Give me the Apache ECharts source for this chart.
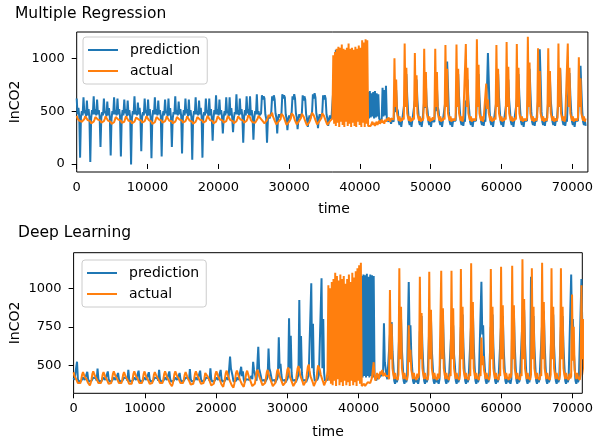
<!DOCTYPE html>
<html><head><meta charset="utf-8">
<script src="https://cdn.jsdelivr.net/npm/echarts@6/dist/echarts.min.js"></script>
<style>html,body{margin:0;padding:0;background:#fff}#c{width:596px;height:441px}</style>
</head><body><div id="c"></div>
<script>
// one value per 120 time units (12 values per line = 1440 time units)
const STEP = 120;
const xTicks = [0,10000,20000,30000,40000,50000,60000,70000];
const yTicksTop = [0,500,1000];
const yTicksBot = [500,750,1000];
const seriesNames = ['prediction','actual'];

// Multiple Regression: prediction
const predTop = [
620,470,530,450,60,440,500,460,630,480,510,450,
600,460,520,440,20,430,510,470,640,470,520,460,
610,470,510,450,160,440,490,460,620,480,500,450,
590,460,530,440,80,430,500,470,630,470,510,460,
620,470,520,450,70,440,510,460,610,480,520,450,
600,460,510,440,-5,430,500,470,640,470,500,460,
580,470,530,450,120,440,490,460,620,480,510,450,
610,460,520,440,55,430,510,470,630,470,520,460,
600,470,510,450,70,440,500,460,610,480,500,450,
620,460,530,440,160,430,490,470,640,470,510,460,
590,470,520,450,100,440,510,460,620,480,520,450,
610,460,510,440,40,430,500,470,630,470,500,460,
600,470,530,450,60,440,490,460,620,480,510,450,
620,460,520,440,220,430,510,470,650,470,520,460,
610,470,510,450,290,440,500,460,630,480,500,450,
630,460,530,440,300,430,490,470,660,470,510,460,
620,470,520,450,200,440,510,460,640,480,520,450,
640,460,510,440,230,430,500,470,660,470,500,460,
450,480,650,610,640,620,470,430,200,420,460,430,
460,490,640,600,650,610,480,440,290,430,470,440,
450,480,660,620,650,630,470,430,320,420,460,430,
460,490,640,610,660,620,480,440,330,430,470,440,
450,480,650,600,640,610,470,430,350,420,460,430,
460,490,660,620,670,630,480,440,340,430,470,440,
450,480,650,610,650,620,470,430,360,420,460,430,
450,440,700,900,500,1080,450,1070,480,950,430,920,
460,900,440,950,450,900,430,950,450,900,420,940,
440,920,450,900,430,950,460,900,440,930,450,900,
430,950,440,900,420,640,420,680,430,690,440,670,
450,680,430,690,440,670,450,660,430,420,400,430,
720,450,700,460,740,430,420,400,430,410,380,420,
420,400,600,490,700,525,500,400,370,420,350,410,
420,400,600,600,850,640,500,400,370,420,350,410,
420,400,600,560,800,600,500,400,370,420,350,410,
410,600,530,750,560,500,400,370,420,350,410,420,
420,400,600,500,720,540,500,400,370,420,350,410,
420,400,600,680,970,730,500,400,370,420,350,410,
420,400,410,600,600,850,640,500,400,370,420,360,
420,400,600,560,800,600,500,400,370,420,350,410,
420,400,410,600,600,850,640,500,400,370,420,360,
420,400,600,740,1050,790,500,400,370,420,350,410,
420,400,600,600,850,640,500,400,370,420,350,410,
420,400,600,560,800,600,500,400,370,420,350,410,
420,400,600,600,850,640,500,400,370,420,350,410,
420,400,410,600,630,900,680,500,400,370,420,360,
420,400,410,600,760,1085,810,500,400,370,420,360,
420,400,410,600,560,800,600,500,400,370,420,360,
420,400,410,600,630,900,680,500,400,370,420,360,
420,400,600,600,860,650,500,400,370,420,350,410,
420,400,410,600,650,930,700,500,400,370,420,360
];
// Multiple Regression: actual
const actTop = [
455,430,440,410,415,395,400,385,405,425,450,435,
440,415,425,400,405,385,395,380,400,420,445,430,
445,420,430,405,410,390,400,385,405,425,450,435,
440,410,420,395,400,380,390,375,395,420,445,430,
445,420,430,405,410,390,400,385,400,425,450,435,
435,410,420,395,405,385,395,380,400,420,440,425,
445,420,430,405,410,390,400,385,405,425,450,435,
440,415,425,400,400,380,390,375,395,420,445,430,
445,420,430,405,410,390,400,385,405,425,450,435,
440,410,420,395,405,385,395,380,400,420,445,430,
445,420,430,405,410,390,400,385,405,425,450,435,
435,410,420,395,400,380,390,375,400,420,445,430,
445,420,430,405,410,390,400,385,405,430,455,440,
440,415,425,400,405,385,395,380,400,425,450,435,
450,420,430,405,410,390,400,385,405,430,455,440,
440,415,425,400,405,385,395,380,405,425,450,435,
450,420,430,405,410,390,400,385,410,430,460,445,
440,415,425,395,400,380,390,375,405,430,455,440,
450,425,435,405,410,385,395,380,415,440,465,445,
430,465,485,450,440,410,400,375,370,385,405,420,
425,475,490,455,445,415,400,370,365,380,400,415,
430,480,495,460,445,410,405,375,360,385,410,420,
435,475,490,450,440,405,395,365,355,380,400,420,
430,485,500,460,450,415,405,375,370,390,410,425,
435,480,495,455,445,410,400,370,365,385,405,420,
420,430,1030,380,1060,360,1090,390,1110,350,1100,400,
1130,370,1090,350,1080,400,1100,360,1140,380,1090,350,
1100,390,1080,360,1110,350,1090,400,1120,370,1100,350,
1170,390,1150,350,1180,380,1170,360,370,350,360,380,
400,370,390,360,380,400,370,390,410,380,400,420,
390,410,380,420,400,430,410,440,420,400,430,420,
440,420,1000,540,800,480,440,410,450,400,430,410,
440,420,1140,540,910,480,440,410,450,400,430,410,
440,420,1050,540,840,480,440,410,450,400,430,410,
430,1090,540,870,480,440,410,450,400,430,410,440,
440,420,1090,540,870,480,440,410,450,400,430,410,
440,420,1125,540,900,480,440,410,450,400,430,410,
430,410,440,1130,540,900,480,440,410,450,400,430,
440,420,1135,540,910,480,440,410,450,400,430,410,
430,410,440,1180,540,940,480,440,410,450,400,430,
440,420,760,520,610,480,440,410,450,400,430,410,
440,420,1125,540,900,480,440,410,450,400,430,410,
440,420,1155,540,920,480,440,410,450,400,430,410,
440,420,1135,540,910,480,440,410,450,400,430,410,
430,410,440,1205,540,960,480,440,410,450,400,430,
430,410,440,1095,540,880,480,440,410,450,400,430,
430,410,440,1095,540,880,480,440,410,450,400,430,
430,410,440,1140,540,910,480,440,410,450,400,430,
440,420,1140,540,910,480,440,410,450,400,430,410,
430,410,440,1010,540,810,480,440,410,450,400,430
];
// Deep Learning: prediction
const predBot = [
420,405,415,400,523,410,395,405,390,400,410,420,
420,405,415,400,458,410,395,405,390,400,410,420,
425,410,415,400,478,410,395,405,390,400,410,420,
420,405,415,400,460,410,395,405,390,400,410,420,
420,405,415,400,450,410,395,405,390,400,410,420,
425,410,415,400,470,410,395,405,390,400,410,420,
420,405,415,400,465,410,395,405,390,400,410,420,
420,405,415,400,455,410,395,405,390,400,410,420,
425,410,415,400,470,410,395,405,390,400,410,420,
420,405,415,400,460,410,395,405,390,400,410,420,
420,405,415,400,450,410,395,405,390,400,410,420,
425,410,415,400,475,410,395,405,390,400,410,420,
420,405,415,400,465,410,395,405,390,400,410,420,
425,410,415,400,480,410,395,405,390,400,410,420,
420,405,415,400,470,410,395,405,390,400,410,420,
420,405,415,556,480,470,430,395,405,390,400,420,
420,405,415,400,490,430,460,410,390,400,410,420,
420,405,415,400,430,410,523,470,480,420,400,410,
620,480,470,430,400,410,395,405,390,400,410,430,
608,480,460,430,400,410,395,405,390,400,410,430,
682,480,510,440,400,410,395,405,390,400,410,430,
805,480,691,450,400,410,395,405,390,400,420,440,
924,480,690,450,400,410,395,405,390,400,420,440,
430,440,1032,480,770,450,400,410,395,405,420,440,
430,440,1065,480,800,450,400,410,395,405,420,430,
440,900,430,950,450,900,440,960,430,920,450,900,
430,950,450,900,440,960,430,920,450,980,440,950,
430,1000,450,960,440,1000,430,980,450,1020,440,1000,
430,1080,420,1090,430,1085,420,1095,430,1075,420,1090,
430,1085,420,1080,430,420,400,430,410,440,420,450,
430,420,450,773,520,480,430,410,420,400,700,540,
780,590,500,400,380,420,390,410,400,720,560,800,
600,500,400,380,420,390,410,420,1040,700,760,570,
480,400,380,420,390,410,400,380,410,720,580,820,
620,500,400,380,420,390,410,400,740,560,800,600,
500,400,380,420,390,410,400,380,410,400,740,580,
820,620,500,400,380,420,390,410,400,410,740,560,
760,570,500,400,380,420,390,410,400,750,590,830,
620,500,400,380,420,390,410,400,410,770,600,850,
640,500,400,380,420,390,410,400,410,1043,700,760,
570,480,400,380,420,390,410,400,750,590,830,620,
500,400,380,420,390,410,400,410,760,580,820,620,
500,400,380,420,390,410,400,380,410,760,600,840,
630,500,400,380,420,390,410,400,410,790,610,860,
640,500,400,380,420,390,420,1075,750,590,820,620,
500,400,380,420,390,410,400,410,770,600,850,640,
500,400,380,420,390,410,400,750,590,830,620,500,
400,380,420,390,410,400,750,590,820,620,500,400,
380,420,390,410,400,420,1090,750,800,600,500,400,
380,420,390,410,400,420,1060,760,700,560,480,410
];
// Deep Learning: actual
const actBot = [
455,430,440,410,405,385,390,375,385,410,440,455,
450,425,435,410,400,385,390,370,385,410,445,460,
450,430,440,410,405,385,395,375,385,405,440,455,
445,425,435,405,400,380,390,370,385,410,445,460,
455,430,440,410,405,385,390,375,385,410,440,455,
450,425,430,405,400,380,385,370,380,410,445,460,
450,430,440,410,405,385,395,375,385,410,445,460,
455,425,435,405,400,380,390,370,385,405,440,455,
450,430,440,410,405,385,390,375,385,410,445,460,
445,425,430,405,400,380,385,365,380,410,445,460,
455,430,440,410,405,385,390,375,385,410,440,455,
450,425,430,400,395,375,385,365,380,410,445,460,
450,430,440,405,400,380,390,370,385,415,450,460,
455,425,430,400,390,370,380,360,380,410,445,460,
450,430,435,405,395,375,380,360,385,415,450,465,
455,425,430,395,390,370,375,355,380,410,450,465,
450,430,435,400,395,375,380,360,385,415,450,465,
460,425,430,395,385,365,370,355,380,415,455,470,
455,430,435,400,390,370,375,360,385,420,455,470,
460,425,430,395,385,365,370,355,385,420,460,475,
465,430,435,400,390,370,375,360,390,430,470,485,
460,425,430,395,385,365,370,355,395,440,480,495,
470,435,440,405,390,370,380,360,400,450,490,505,
465,430,435,400,385,365,375,355,405,460,500,510,
470,440,445,405,390,370,380,365,410,465,1020,400,
1000,380,1040,370,1060,400,1100,365,1080,410,1050,370,
1090,390,1060,365,1080,400,1030,370,1060,390,1090,365,
1040,400,1100,370,1070,390,1110,365,1130,400,1150,380,
1166,365,370,360,380,365,375,370,390,380,400,385,
390,420,410,520,430,400,420,450,430,410,440,460,
440,470,430,420,450,430,440,420,430,410,989,540,
770,480,440,410,450,420,430,405,440,1130,540,880,
480,440,410,450,420,430,405,440,760,520,600,470,
440,410,450,420,430,405,445,415,440,1075,540,840,
480,440,410,450,420,430,405,440,1108,540,860,480,
440,410,450,420,430,405,445,415,430,440,1114,540,
870,480,440,410,450,420,430,405,445,430,1114,540,
870,480,440,410,450,420,430,405,440,1125,540,880,
480,440,410,450,420,430,405,445,430,1162,540,910,
480,440,410,450,420,430,405,445,430,680,500,560,
470,440,410,450,420,430,405,440,1125,540,880,480,
440,410,450,420,430,405,445,430,1140,540,890,480,
440,410,450,420,430,405,445,415,440,1147,540,890,
480,440,410,450,420,430,405,445,430,1188,540,930,
480,440,410,450,420,430,405,440,1130,540,880,480,
440,410,450,420,430,405,445,430,1166,540,910,480,
440,410,450,420,430,405,440,1130,540,880,480,440,
410,450,420,430,405,440,1130,540,880,480,440,410,
450,420,430,405,445,415,430,960,530,750,470,440,
410,450,420,430,405,440,1020,540,800,480,440,420
];

function toPairs(vals){ return vals.map((v,i)=>[i*STEP, v]); }

const FONT = 'DejaVu Sans';
const BLUE = '#1f77b4', ORANGE = '#ff7f0e';

function xAxisCfg(gi, max){
  return {type:'value', gridIndex:gi, min:0, max:max,
    axisLine:{show:false},
    axisTick:{show:true, length:5, lineStyle:{color:'#000', width:1}, customValues:xTicks},
    axisLabel:{color:'#000', fontSize:13, fontFamily:FONT, margin:9, customValues:xTicks, formatter:v=>String(v)},
    splitLine:{show:false}};
}
function yAxisCfg(gi, min, max, ticks){
  return {type:'value', gridIndex:gi, min:min, max:max,
    axisLine:{show:false},
    axisTick:{show:true, length:5, lineStyle:{color:'#000', width:1}, customValues:ticks},
    axisLabel:{color:'#000', fontSize:13, fontFamily:FONT, margin:12, customValues:ticks, formatter:v=>String(v)},
    splitLine:{show:false}};
}
function lineSeries(name, gi, vals, color){
  return {name:name, type:'line', xAxisIndex:gi, yAxisIndex:gi, data:toPairs(vals),
    showSymbol:false, symbol:'none', sampling:null, animation:false,
    lineStyle:{color:color, width:2}, itemStyle:{color:color}};
}
function legendCfg(left, top){
  return {left:left, top:top, orient:'vertical', icon:'rect', itemWidth:30, itemHeight:2, itemGap:7,
    padding:[6,7,6,5], data:seriesNames,
    textStyle:{fontSize:14, fontFamily:FONT, color:'#000', lineHeight:14, padding:[0,0,0,7]},
    borderColor:'#cccccc', borderWidth:1, borderRadius:3, backgroundColor:'rgba(255,255,255,0.85)'};
}

const chart = echarts.init(document.getElementById('c'), null, {renderer:'canvas'});
chart.setOption({
  animation:false,
  grid:[
    {left:76.7, top:32, width:515, height:140, show:true, borderColor:'#000', borderWidth:1, backgroundColor:'transparent'},
    {left:73.6, top:252.7, width:509, height:140.6, show:true, borderColor:'#000', borderWidth:1, backgroundColor:'transparent'}
  ],
  xAxis:[xAxisCfg(0, 72200), xAxisCfg(1, 71400)],
  yAxis:[yAxisCfg(0, -76, 1249, yTicksTop), yAxisCfg(1, 318, 1231, yTicksBot)],
  legend:[legendCfg(83, 37), legendCfg(82, 260)],
  series:[
    lineSeries(seriesNames[0], 0, predTop, BLUE),
    lineSeries(seriesNames[1], 0, actTop, ORANGE),
    lineSeries(seriesNames[0], 1, predBot, BLUE),
    lineSeries(seriesNames[1], 1, actBot, ORANGE)
  ],
  graphic:[
    {type:'text', x:15, y:14, style:{text:'Multiple Regression', fontSize:15.5, fontFamily:FONT, fill:'#000', align:'left', verticalAlign:'middle'}},
    {type:'text', x:18, y:233, style:{text:'Deep Learning', fontSize:15.5, fontFamily:FONT, fill:'#000', align:'left', verticalAlign:'middle'}},
    {type:'text', x:15, y:102, rotation:Math.PI/2, style:{text:'InCO2', fontSize:14, fontFamily:FONT, fill:'#000', align:'center', verticalAlign:'middle'}},
    {type:'text', x:15, y:323, rotation:Math.PI/2, style:{text:'InCO2', fontSize:14, fontFamily:FONT, fill:'#000', align:'center', verticalAlign:'middle'}},
    {type:'text', x:334, y:209, style:{text:'time', fontSize:14, fontFamily:FONT, fill:'#000', align:'center', verticalAlign:'middle'}},
    {type:'text', x:328, y:432, style:{text:'time', fontSize:14, fontFamily:FONT, fill:'#000', align:'center', verticalAlign:'middle'}}
  ]
});
</script></body></html>
